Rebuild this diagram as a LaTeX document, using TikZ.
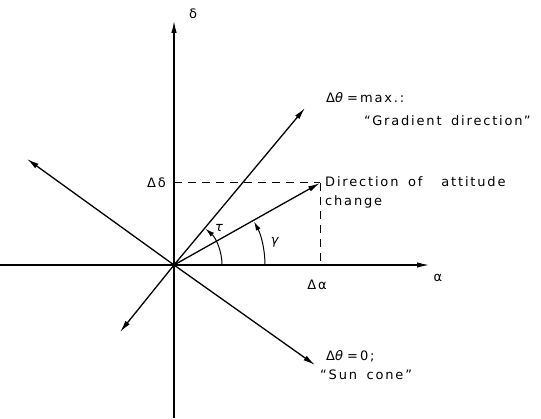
\documentclass[tikz,border=0pt]{standalone}
\usepackage{fontspec}
\setmainfont{DejaVu Sans}[LetterSpace=14,WordSpace=1.6]
\usetikzlibrary{arrows.meta}
\tikzset{
  axisline/.style={line width=1.3pt},
  arr/.style={line width=1.3pt,-{Latex[length=12pt,width=5.5pt]}},
  arcarr/.style={line width=1pt,-{Latex[length=9pt,width=5pt]}},
  dashline/.style={line width=1pt,dash pattern=on 8pt off 6pt},
  lbl/.style={inner sep=0pt,font=\fontsize{13}{15}\selectfont},
  lblw/.style={lbl,anchor=west}
}
\begin{document}
\begin{tikzpicture}[x=1pt,y=1pt]
\useasboundingbox (0,0) rectangle (541,418);
% points
\coordinate (O) at (174,153);
\coordinate (vbot) at (174,0);
\coordinate (vtop) at (174,397);
\coordinate (hleft) at (0,153);
\coordinate (hright) at (429,153);
\coordinate (ur) at (305,310);
\coordinate (ul) at (27,259);
\coordinate (ll) at (120,86);
\coordinate (lr) at (315,53);
\coordinate (D) at (320,235);
\coordinate (Dy) at (174,235);
\coordinate (Dx) at (320,153);
% axes
\draw[arr] (vbot) -- (vtop);
\draw[arr] (hleft) -- (hright);
% dashed projections
\draw[dashline] (Dy) -- (D);
\draw[dashline] (D) -- (Dx);
% rays
\draw[arr] (O) -- (ur);
\draw[arr] (O) -- (ul);
\draw[arr] (O) -- (ll);
\draw[arr] (O) -- (lr);
\draw[arr] (O) -- (D);
\fill (O) circle[radius=2.6pt];
% angle arcs
\draw[arcarr] ([shift={(48pt,0pt)}]O) arc[start angle=0,end angle=49,radius=48pt];
\draw[arcarr] ([shift={(91pt,0pt)}]O) arc[start angle=0,end angle=28.5,radius=91pt];
% labels
\node[lbl] (ldelta) at (193,404) {δ};
\node[lbl] (lalpha) at (438,140) {α};
\node[lbl,anchor=east] (lDd) at (166,235) {Δδ};
\node[lbl] (lDa) at (317,133) {Δα};
\node[lbl] (ltau) at (220,190) {\textit{τ}};
\node[lbl] (lgamma) at (276,176) {\textit{γ}};
\node[lblw] (lmax) at (326,320) {Δ\textit{θ}\,=\,max.:};
\node[lblw] (lgrad) at (364,297) {``Gradient direction''};
\node[lblw] (ldir) at (325,236) {Direction of \ attitude};
\node[lblw] (lchange) at (325,216) {change};
\node[lblw] (lzero) at (326,62) {Δ\textit{θ}\,=\,0;};
\node[lblw] (lsun) at (320,43) {``Sun cone''};
\end{tikzpicture}
\end{document}
